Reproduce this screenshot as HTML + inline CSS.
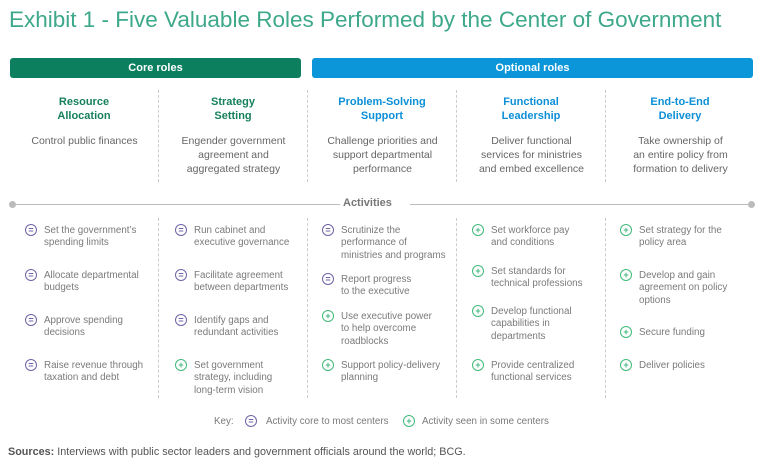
<!DOCTYPE html>
<html><head><meta charset="utf-8"><style>
body{margin:0;width:768px;height:475px;background:#fff;position:relative;overflow:hidden;font-family:"Liberation Sans",sans-serif}
.a{position:absolute}
.title{left:9px;top:7px;font-size:22.5px;color:#3da88a;white-space:nowrap}
.bar{height:20px;border-radius:3px;color:#fff;font-weight:bold;font-size:11px;text-align:center;line-height:20px;top:58px}
.hd{top:95px;width:140px;text-align:center;font-weight:bold;font-size:11px;line-height:14px}
.ds{top:134px;width:145px;text-align:center;font-size:10.5px;line-height:14px;color:#666}
.div{width:0;border-left:1px dashed #ccc}
.it{font-size:9.8px;line-height:12.3px;color:#7a7a7a;white-space:nowrap}
.ic{width:10px;height:10px;border-radius:50%;border:1.3px solid;font-size:9px;line-height:10px;text-align:center;font-weight:bold}
.p{border-color:#6f63a8;color:#6f63a8}.g{border-color:#3fba7a;color:#3fba7a}
</style></head><body>
<div class="a title">Exhibit 1 - Five Valuable Roles Performed by the Center of Government</div>
<div class="a bar" style="left:10px;width:291px;background:#0b7f5e">Core roles</div>
<div class="a bar" style="left:312px;width:441px;background:#0b96d9">Optional roles</div>
<div class="a" style="left:10px;top:204px;width:330px;border-top:1px solid #bbb"></div>
<div class="a" style="left:410px;top:204px;width:342px;border-top:1px solid #bbb"></div>
<div class="a" style="left:9px;top:201px;width:7px;height:7px;border-radius:50%;background:#bbb"></div>
<div class="a" style="left:748px;top:201px;width:7px;height:7px;border-radius:50%;background:#bbb"></div>
<div class="a" style="left:343px;top:197px;font-size:11px;font-weight:bold;color:#777">Activities</div>
<div class="a it" style="left:214px;top:416px">Key:</div>
<div class="a ic p" style="left:245px;top:415px">=</div>
<div class="a it" style="left:266px;top:416px">Activity core to most centers</div>
<div class="a ic g" style="left:403px;top:415px">+</div>
<div class="a it" style="left:422px;top:416px">Activity seen in some centers</div>
<div class="a" style="left:8px;top:446px;font-size:10.8px;color:#555"><b>Sources:</b> Interviews with public sector leaders and government officials around the world; BCG.</div>
<script>
const colHeads=[["Resource","Allocation"],["Strategy","Setting"],["Problem-Solving","Support"],["Functional","Leadership"],["End-to-End","Delivery"]];
const colDescs=[["Control public finances"],["Engender government","agreement and","aggregated strategy"],["Challenge priorities and","support departmental","performance"],["Deliver functional","services for ministries","and embed excellence"],["Take ownership of","an entire policy from","formation to delivery"]];
const items=[
[["p",230,"Set the government’s","spending limits"],["p",275,"Allocate departmental","budgets"],["p",320,"Approve spending","decisions"],["p",365,"Raise revenue through","taxation and debt"]],
[["p",230,"Run cabinet and","executive governance"],["p",275,"Facilitate agreement","between departments"],["p",320,"Identify gaps and","redundant activities"],["g",365,"Set government","strategy, including","long-term vision"]],
[["p",230,"Scrutinize the","performance of","ministries and programs"],["p",279,"Report progress","to the executive"],["g",316,"Use executive power","to help overcome","roadblocks"],["g",365,"Support policy-delivery","planning"]],
[["g",230,"Set workforce pay","and conditions"],["g",271,"Set standards for","technical professions"],["g",311,"Develop functional","capabilities in","departments"],["g",365,"Provide centralized","functional services"]],
[["g",230,"Set strategy for the","policy area"],["g",275,"Develop and gain","agreement on policy","options"],["g",332,"Secure funding"],["g",365,"Deliver policies"]]];
const root=document.body;
const cx=[84,233,382,531,680],iconX=[25,175,322,472,620],divX=[158,307,456,605];
function mk(cls,left,top,html){const d=document.createElement('div');d.className='a '+cls;d.style.left=left+'px';d.style.top=top+'px';d.innerHTML=html;root.appendChild(d);return d;}
colHeads.forEach((h,i)=>{
const e=mk('hd',cx[i]-70,95,h.join('<br>'));e.style.color=i<2?'#16805c':'#0b8fd6';


const d=mk('ds',cx[i]-72,134,colDescs[i].join('<br>'));


});
divX.forEach((x,i)=>{
[[90,92],[218,180]].forEach(([t,h],j)=>{const d=mk('div',x,t,'');d.style.height=h+'px';

});
});
items.forEach((col,i)=>col.forEach((it,j)=>{
const ic=mk('ic '+it[0],iconX[i],it[1]-6,it[0]=='p'?'=':'+');


const t=mk('it',iconX[i]+19,it[1]-5,it.slice(2).join('<br>'));


}));
</script>
</body></html>
